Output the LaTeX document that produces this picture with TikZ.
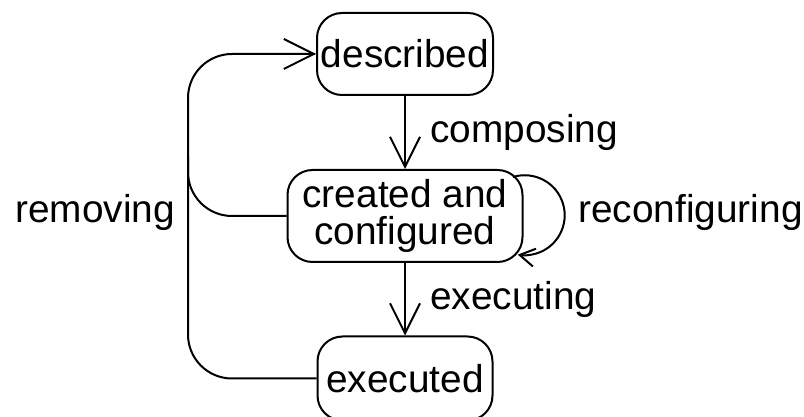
\documentclass[tikz,border=0pt]{standalone}
\usepackage{fontspec}
\setmainfont{Liberation Sans}
\usetikzlibrary{arrows.meta,calc}
\begin{document}
\begin{tikzpicture}[x=0.5pt,y=0.5pt,
  every node/.style={font=\fontsize{19.4}{18.5}\selectfont},
  state/.style={draw,line width=1pt,rounded corners=12.5pt,align=center,inner sep=0pt},
  conn/.style={line width=1pt},
  arr/.style={conn,-{Straight Barb[length=15pt,width=15pt,line width=1pt]}},
  smallarr/.style={conn,-{Straight Barb[length=7.5pt,width=9pt,line width=1pt]}},
  lbl/.style={anchor=base west,inner sep=0pt}]
\useasboundingbox (0,0) rectangle (804,417);
\node[state,minimum width=88pt,minimum height=41pt] (described) at (405,363) {described};
\node[state,minimum width=117.5pt,minimum height=46pt] (created) at (405,201) {created and\\configured};
\node[state,minimum width=87.5pt,minimum height=42pt] (executed) at (405,38.5) {executed};
\coordinate (L) at (188,201);
\coordinate (Ltop) at (188,260);
\draw[arr] (described) -- (created);
\draw[arr] (created) -- (executed);
\draw[conn,rounded corners=22pt] (executed.west) -| (L) |- ($(described.west)+(-1,0)$);
\draw[arr] ($(described.west)+(-2,0)$) -- (described.west);
\draw[conn,rounded corners=22pt] (created.west) -| (Ltop);
\coordinate (loopstart) at ($(created.center)+(108,39)$);
\draw[smallarr] (loopstart) arc[start angle=107,end angle=-100,radius=20pt];
\node[lbl] (composing) at (430,274) {composing};
\node[lbl] (executing) at (430,107) {executing};
\node[lbl] (reconf) at (578,194) {reconfiguring};
\node[lbl] (removing) at (15,194) {removing};
\end{tikzpicture}
\end{document}
